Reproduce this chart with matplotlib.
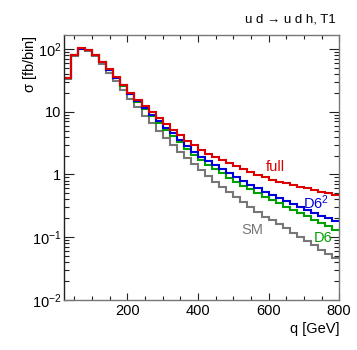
import numpy as np
import matplotlib
matplotlib.use("Agg")
import matplotlib.pyplot as plt
from matplotlib.ticker import FixedLocator, LogLocator, NullFormatter

plt.rcParams['font.family'] = ['Liberation Sans', 'DejaVu Sans']
plt.rcParams['mathtext.fontset'] = 'custom'
plt.rcParams['mathtext.rm'] = 'Liberation Sans'
plt.rcParams['mathtext.it'] = 'Liberation Sans:italic'

# binning: 20 GeV bins from 20 to 800 GeV
edges = np.arange(20, 801, 20)

# sigma per bin [fb]
sm = [33, 78, 100, 93, 76, 57, 42, 30.5, 22, 16, 11.8, 8.6, 6.5, 4.9, 3.8,
      2.95, 2.3, 1.82, 1.45, 1.16, 0.94, 0.77, 0.63, 0.52, 0.43, 0.36, 0.30,
      0.25, 0.21, 0.185, 0.16, 0.138, 0.118, 0.10, 0.086, 0.074, 0.063,
      0.054, 0.046]
d6 = [34, 80, 101, 95, 80, 62, 47, 35, 26, 19.1, 14.4, 11.1, 8.6, 6.7, 5.2,
      4.1, 3.25, 2.55, 2.05, 1.68, 1.42, 1.22, 1.04, 0.89, 0.77, 0.66, 0.58,
      0.50, 0.44, 0.39, 0.345, 0.305, 0.27, 0.24, 0.215, 0.19, 0.17, 0.15,
      0.13]
d6sq = [34, 80, 101, 95, 80, 62, 47, 35, 26.3, 19.4, 14.8, 11.5, 9.0, 7.1,
        5.6, 4.5, 3.6, 2.85, 2.3, 1.9, 1.65, 1.42, 1.22, 1.05, 0.91, 0.79,
        0.69, 0.60, 0.53, 0.47, 0.42, 0.38, 0.34, 0.30, 0.27, 0.245, 0.22,
        0.20, 0.18]
full = [34, 80, 102, 96, 81, 63, 48, 36, 27, 20, 15.5, 12.3, 9.8, 7.9, 6.4,
        5.2, 4.3, 3.45, 2.9, 2.45, 2.15, 1.9, 1.68, 1.5, 1.34, 1.2, 1.08,
        0.98, 0.9, 0.83, 0.77, 0.72, 0.68, 0.63, 0.60, 0.56, 0.53, 0.50, 0.47]

c_sm = '#777777'
c_d6 = '#00a000'
c_d6sq = '#0000dd'
c_full = '#dd0000'

fig = plt.figure(figsize=(3.57, 3.50), dpi=100)
ax = fig.add_axes([0.179, 0.143, 0.771, 0.757])

ax.stairs(sm, edges, baseline=None, color=c_sm, lw=1.5)
ax.stairs(d6, edges, baseline=None, color=c_d6, lw=1.5)
ax.stairs(d6sq, edges, baseline=None, color=c_d6sq, lw=1.5)
ax.stairs(full, edges, baseline=None, color=c_full, lw=1.5)

ax.set_yscale('log')
ax.set_xlim(20, 800)
ax.set_ylim(1e-2, 167)

ax.xaxis.set_major_locator(FixedLocator([200, 400, 600, 800]))
ax.xaxis.set_minor_locator(FixedLocator([50, 100, 150, 250, 300, 350, 450, 500,
                                         550, 650, 700, 750]))
ax.set_xticklabels(['200', '400', '600', '800'])
ax.yaxis.set_major_locator(FixedLocator([1e-2, 1e-1, 1, 10, 100]))
ax.yaxis.set_minor_locator(LogLocator(base=10, subs=np.arange(2, 10)))
ax.yaxis.set_minor_formatter(NullFormatter())
ax.set_yticklabels([r'$\mathregular{10^{-2}}$', r'$\mathregular{10^{-1}}$',
                    '1', '10', r'$\mathregular{10^{2}}$'])

ax.tick_params(which='both', direction='in', top=True, right=True,
               labelsize=10.5, colors='#222222', labelcolor='black', width=0.8)
ax.tick_params(which='major', length=7)
ax.tick_params(which='minor', length=3.5)
ax.tick_params(axis='x', which='major', length=5, pad=3)
ax.tick_params(axis='x', which='minor', length=3)
ax.tick_params(axis='y', pad=2)

for s in ['top', 'right', 'bottom']:
    ax.spines[s].set_color('#777777')
ax.spines['left'].set_color('#222222')
for s in ax.spines.values():
    s.set_linewidth(1.0)

ax.set_xlabel('q [GeV]', fontsize=10.5, loc='right')
ax.xaxis.set_label_coords(1.0, -0.085)
ax.set_ylabel(r'$\mathregular{\sigma}$ [fb/bin]', fontsize=10.5, loc='top')
ax.yaxis.set_label_coords(-0.09, 1.0)

fig.text(0.94, 0.945, 'u d \u2192 u d h, T1', ha='right', va='center',
         fontsize=9.5)

ax.text(593, 1.32, 'full', color=c_full, fontsize=10.5, ha='left', va='center')
ax.text(698, 0.35, r'D6$^{2}$', color=c_d6sq, fontsize=10.5, ha='left',
        va='center')
ax.text(727, 0.097, 'D6', color=c_d6, fontsize=10.5, ha='left', va='center')
ax.text(522, 0.13, 'SM', color=c_sm, fontsize=10.5, ha='left', va='center')

fig.savefig('out.png', dpi=100)
